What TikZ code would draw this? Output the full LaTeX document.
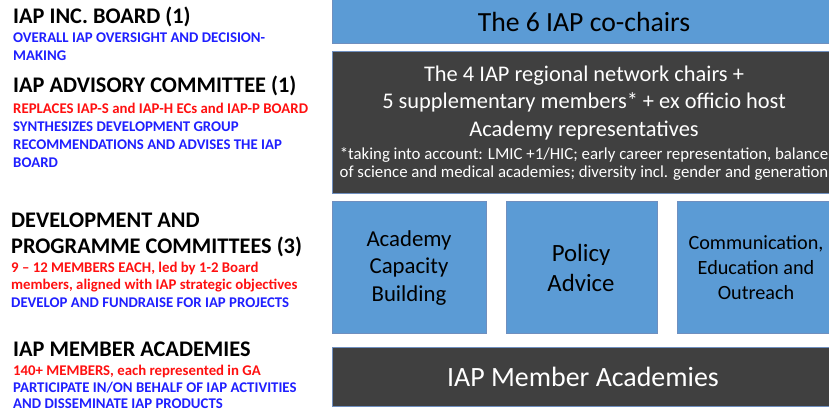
\documentclass[tikz,border=0pt]{standalone}
\usepackage{fontspec}
\setmainfont{Carlito}
\definecolor{boxblue}{HTML}{5B9BD5}
\definecolor{boxdark}{HTML}{404040}
\definecolor{edge}{HTML}{6F8FBF}
\definecolor{txtblue}{HTML}{1F1FFF}
\definecolor{txtred}{HTML}{FF1010}
\tikzset{
  bluebox/.style={fill=boxblue,draw=edge,line width=0.8pt},
  darkbox/.style={fill=boxdark,draw=edge,line width=0.8pt},
  head/.style={anchor=west,inner sep=0pt,font=\fontsize{22.3}{24}\selectfont\bfseries,text=black},
  bl/.style={anchor=west,inner sep=0pt,font=\fontsize{14.8}{16}\selectfont\bfseries,text=txtblue},
  rd/.style={anchor=west,inner sep=0pt,font=\fontsize{14.8}{16}\selectfont\bfseries,text=txtred},
  boxtxt/.style={align=center,inner sep=0pt}
}
\begin{document}
\begin{tikzpicture}[x=1pt,y=-1pt]
\useasboundingbox (0,0) rectangle (829,412);
% right side boxes
\path[bluebox] (332,-2) rectangle (831,43);
\node[boxtxt,font=\fontsize{27.7}{30}\selectfont] (cochairs) at (584,22) {The 6 IAP co-chairs};
\path[darkbox] (332,51) rectangle (831,193);
\node[boxtxt,text=white,font=\fontsize{22.4}{27.5}\selectfont] (regional) at (584,103) {The 4 IAP regional network chairs +\\5 supplementary members* + ex officio host\\Academy representatives};
\node[boxtxt,text=white,font=\fontsize{16.8}{18.5}\selectfont] (footnote) at (584,164) {*taking into account: LMIC +1/HIC; early career representation, balance\\of science and medical academies; diversity incl. gender and generation};
\path[bluebox] (332,201) rectangle (486,333);
\node[boxtxt,font=\fontsize{22.8}{27.5}\selectfont] (acb) at (409,268) {Academy\\Capacity\\Building};
\path[bluebox] (506,201) rectangle (657,333);
\node[boxtxt,font=\fontsize{24.8}{30}\selectfont] (policy) at (581,268) {Policy\\Advice};
\path[bluebox] (677,201) rectangle (831,333);
\node[boxtxt,font=\fontsize{20.2}{25}\selectfont] (ceo) at (756,268) {Communication,\\Education and\\Outreach};
\path[darkbox] (332,347) rectangle (831,406);
\node[boxtxt,text=white,font=\fontsize{27.9}{30}\selectfont] (members) at (583,377) {IAP Member Academies};
% left side texts
\node[head] (h1) at (13,17) {IAP INC. BOARD (1)};
\node[bl] (h1a) at (13,38) {OVERALL IAP OVERSIGHT AND DECISION-};
\node[bl] (h1b) at (13,56) {MAKING};
\node[head] (h2) at (13,86) {IAP ADVISORY COMMITTEE (1)};
\node[rd] (h2a) at (13,108) {REPLACES IAP-S and IAP-H ECs and IAP-P BOARD};
\node[bl] (h2b) at (13,127) {SYNTHESIZES DEVELOPMENT GROUP};
\node[bl] (h2c) at (13,145) {RECOMMENDATIONS AND ADVISES THE IAP};
\node[bl] (h2d) at (13,163) {BOARD};
\node[head] (h3) at (11,220) {DEVELOPMENT AND};
\node[head] (h3b) at (11,247) {PROGRAMME COMMITTEES (3)};
\node[rd] (h3c) at (11,268) {9 -- 12 MEMBERS EACH, led by 1-2 Board};
\node[rd] (h3d) at (11,286) {members, aligned with IAP strategic objectives};
\node[bl] (h3e) at (11,303) {DEVELOP AND FUNDRAISE FOR IAP PROJECTS};
\node[head] (h4) at (13,349) {IAP MEMBER ACADEMIES};
\node[rd] (h4a) at (13,371) {140+ MEMBERS, each represented in GA};
\node[bl] (h4b) at (13,388) {PARTICIPATE IN/ON BEHALF OF IAP ACTIVITIES};
\node[bl] (h4c) at (13,404) {AND DISSEMINATE IAP PRODUCTS};
\end{tikzpicture}
\end{document}
